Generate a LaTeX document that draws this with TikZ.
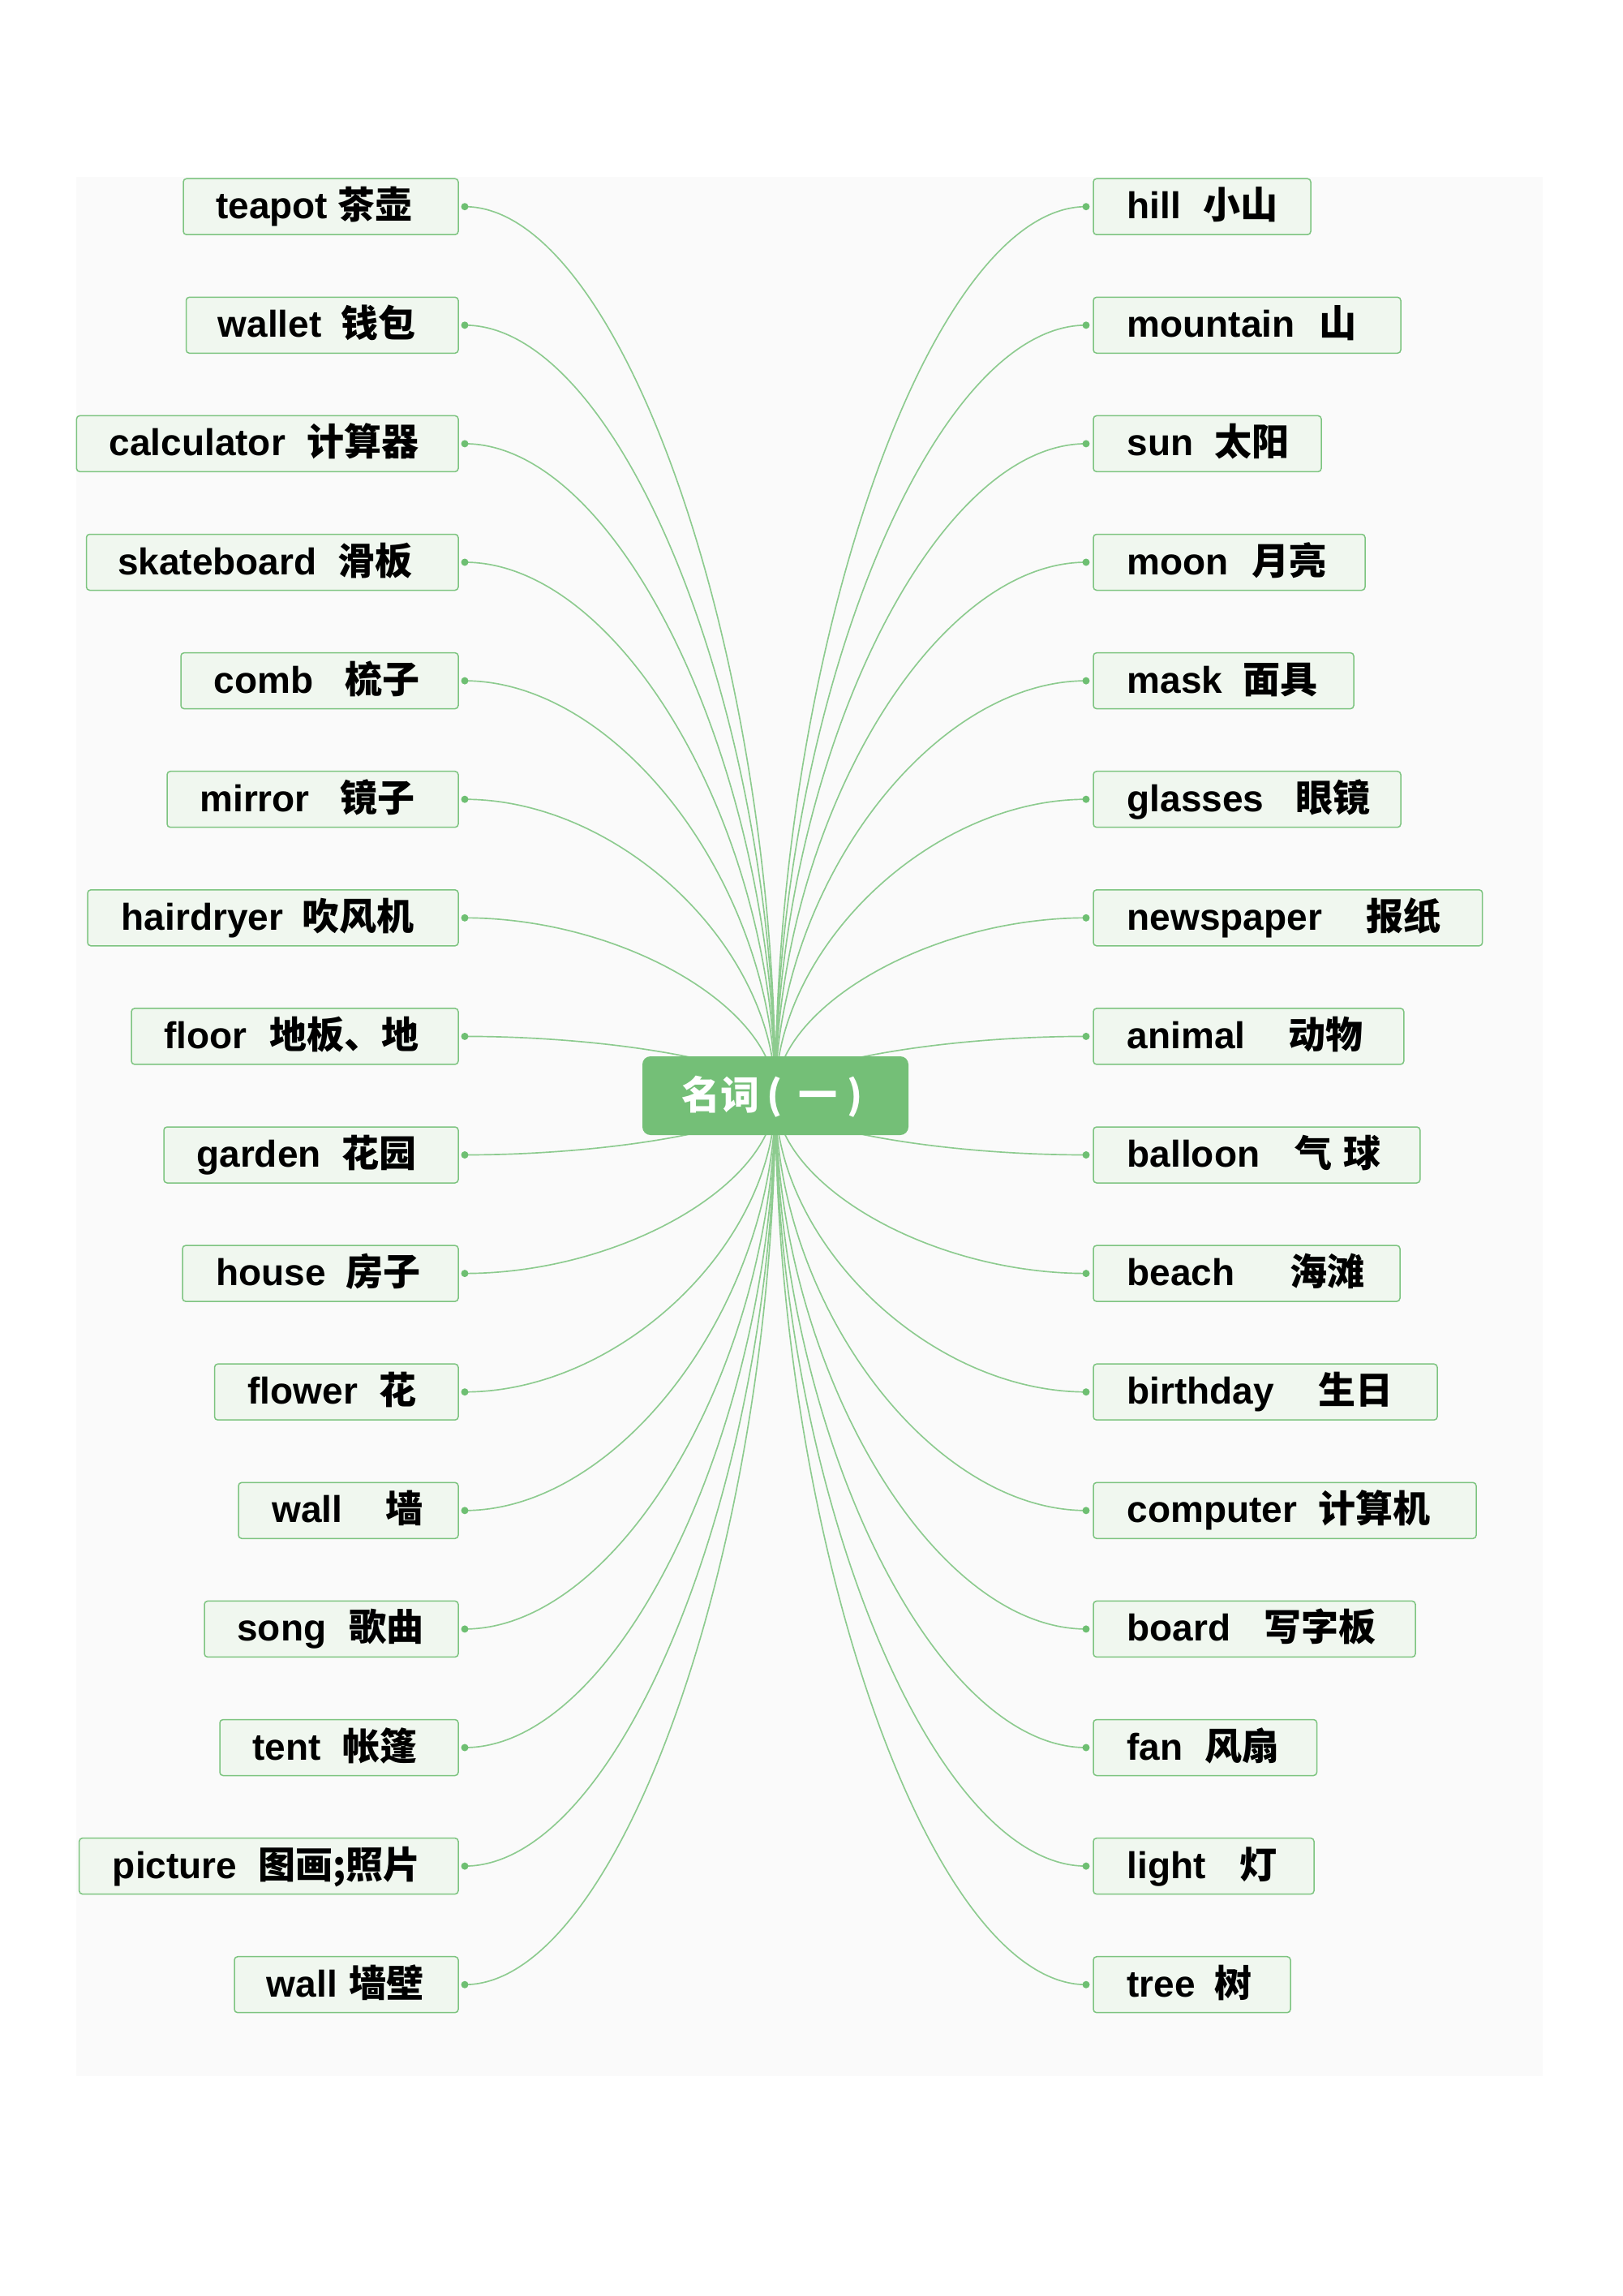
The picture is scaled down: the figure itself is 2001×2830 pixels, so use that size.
\documentclass[tikz,border=0pt]{standalone}
\usepackage{fontspec}
\setmainfont{Liberation Sans}
\newfontfamily\cjk{Noto Sans CJK SC}
\usetikzlibrary{calc}
\definecolor{bgc}{HTML}{FAFAFA}
\definecolor{leafborder}{HTML}{7DC480}
\definecolor{leaffill}{HTML}{F0F7EF}
\definecolor{linec}{HTML}{8DCB8F}
\definecolor{dotc}{HTML}{6EBF72}
\definecolor{rootc}{HTML}{74BF77}
\newcommand\leftleaf[7]{%
  \coordinate (#1-p) at (573,#2);
  \draw[conn] (#1-p) .. controls ($(#1-p)!0.5!(#1-p -| hub)$) and ($(hub)!0.5!(hub |- #1-p)$) .. (hub);
  \node[leafbox, anchor=east, minimum width={(565-#3)*0.3pt}] (#1) at (565,#2) {};
  \node[entext] (#1-en) at ({#5-1},{#2+15}) {#4};
  \node[zhtext] (#1-zh) at ({#7-2},{#2+15}) {#6};
  \node[dotnode] (#1-dot) at (#1-p) {};
}
\newcommand\rightleaf[6]{%
  \coordinate (#1-p) at (1339,#2);
  \draw[conn] (#1-p) .. controls ($(#1-p)!0.5!(#1-p -| hub)$) and ($(hub)!0.5!(hub |- #1-p)$) .. (hub);
  \node[leafbox, anchor=west, minimum width={(#3-1348)*0.3pt}] (#1) at (1348,#2) {};
  \node[entext] (#1-en) at (1389,{#2+15}) {#4};
  \node[zhtext] (#1-zh) at ({#6-2},{#2+15}) {#5};
  \node[dotnode] (#1-dot) at (#1-p) {};
}
\begin{document}
\begin{tikzpicture}[x=0.3pt,y=-0.3pt,
  leafbox/.style={draw=leafborder, fill=leaffill, line width=0.45pt, rounded corners=1.2pt, minimum height=20.7pt, inner sep=0pt, outer sep=0pt},
  entext/.style={anchor=base west, inner sep=0pt, font=\fontsize{13.8}{16}\selectfont\bfseries},
  zhtext/.style={anchor=base west, inner sep=0pt, font=\fontsize{13.8}{16}\selectfont\cjk\bfseries},
  dotnode/.style={circle, fill=dotc, minimum size=2.7pt, inner sep=0pt},
  conn/.style={draw=linec, line width=0.5pt},
  rootbox/.style={fill=rootc, rounded corners=3pt, minimum width=98.4pt, minimum height=29.1pt, inner sep=0pt, outer sep=0pt},
  roottext/.style={anchor=base west, inner sep=0pt, text=white, font=\fontsize{14.4}{17}\selectfont\cjk\bfseries}]
\useasboundingbox (0,0) rectangle (2001,2830);
\fill[white] (0,0) rectangle (2001,2830);
\fill[bgc] (94,218) rectangle (1902,2559);
\coordinate (hub) at (956,1350.5);
% left side
\leftleaf{teapot}{254.7}{226}{teapot}{266.6}{茶壶}{417.7}
\leftleaf{wallet}{400.8}{229.5}{wallet}{269}{钱包}{422}
\leftleaf{calculator}{546.9}{94.4}{calculator}{135}{计算器}{379.5}
\leftleaf{skateboard}{693.0}{106.5}{skateboard}{145.4}{滑板}{417.7}
\leftleaf{comb}{839.1}{223}{comb}{264}{梳子}{426.7}
\leftleaf{mirror}{985.2}{206}{mirror}{246.7}{镜子}{420.7}
\leftleaf{hairdryer}{1131.3}{108}{hairdryer}{150}{吹风机}{374}
\leftleaf{floor}{1277.4}{162}{floor}{202.7}{地板、地}{334}
\leftleaf{garden}{1423.5}{202}{garden}{242.7}{花园}{423.3}
\leftleaf{house}{1569.6}{225}{house}{266.7}{房子}{428.3}
\leftleaf{flower}{1715.7}{264.5}{flower}{306}{花}{469}
\leftleaf{wall}{1861.8}{294}{wall}{335.7}{墙}{477}
\leftleaf{song}{2007.9}{252}{song}{292.7}{歌曲}{431.7}
\leftleaf{tent}{2154.0}{271}{tent}{311.7}{帐篷}{424}
\leftleaf{picture}{2300.1}{97.7}{picture}{139.3}{图画;照片}{320}
\leftleaf{wallb}{2446.2}{289}{wall}{329.3}{墙壁}{431.7}
% right side
\rightleaf{hill}{254.7}{1616}{hill}{小山}{1485}
\rightleaf{mountain}{400.8}{1727}{mountain}{山}{1628}
\rightleaf{sun}{546.9}{1629}{sun}{太阳}{1498.7}
\rightleaf{moon}{693.0}{1683}{moon}{月亮}{1544.6}
\rightleaf{mask}{839.1}{1669}{mask}{面具}{1533.8}
\rightleaf{glasses}{985.2}{1727}{glasses}{眼镜}{1599}
\rightleaf{newspaper}{1131.3}{1827.7}{newspaper}{报纸}{1685.8}
\rightleaf{animal}{1277.4}{1730.8}{animal}{动物}{1590}
\rightleaf{balloon}{1423.5}{1750.8}{balloon}{气\hspace{4.2pt}球}{1598}
\rightleaf{beach}{1569.6}{1726}{beach}{海滩}{1591.5}
\rightleaf{birthday}{1715.7}{1772}{birthday}{生日}{1627}
\rightleaf{computer}{1861.8}{1820}{computer}{计算机}{1627}
\rightleaf{board}{2007.9}{1745}{board}{写字板}{1559.6}
\rightleaf{fan}{2154.0}{1623.5}{fan}{风扇}{1486.5}
\rightleaf{light}{2300.1}{1620}{light}{灯}{1530}
\rightleaf{tree}{2446.2}{1591}{tree}{树}{1498.7}
% central topic
\node[rootbox] (root) at (hub) {};
\node[roottext] (root-text) at (840,1367) {名词\hspace{2.7pt}(\hspace{6pt}一\hspace{3.6pt})};
\end{tikzpicture}
\end{document}
